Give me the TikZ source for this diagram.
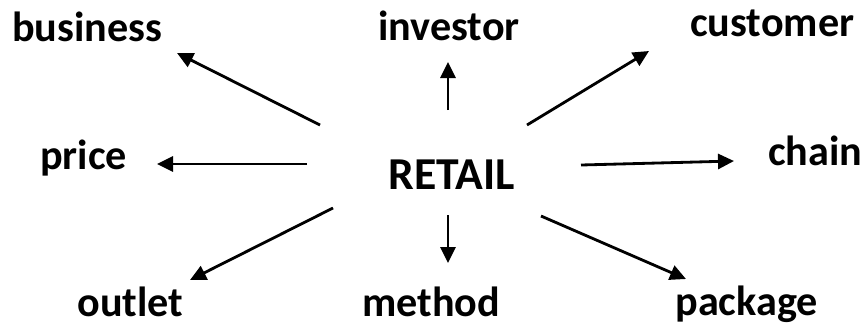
\documentclass[tikz,border=0pt]{standalone}
\usepackage{fontspec}
\setmainfont{Carlito}
\usepackage{tikz}
\usetikzlibrary{arrows.meta}
\definecolor{RetailInk}{HTML}{000000}
\tikzset{
  word/.style={anchor=base west,inner sep=0pt,text=RetailInk,font=\fontsize{24}{28}\selectfont\bfseries},
  hub/.style={anchor=base west,inner sep=0pt,text=RetailInk,font=\fontsize{26}{30}\selectfont\bfseries},
  spoke/.style={-{Triangle[length=0.32cm,width=0.3cm]},line width=1.6pt,color=RetailInk},
}

\begin{document}
\begin{tikzpicture}[x=0.02cm,y=-0.02cm]
  \useasboundingbox (0,0) rectangle (864,329);

  \node[hub] (retail) at (388,189) {RETAIL};

  \node[word] (business) at (12,41) {business};
  \node[word] (investor) at (378,40) {investor};
  \node[word] (customer) at (690,36) {customer};
  \node[word] (price) at (40,169) {price};
  \node[word] (chain) at (768,165) {chain};
  \node[word] (outlet) at (77,316) {outlet};
  \node[word] (method) at (362,316) {method};
  \node[word] (package) at (675,315) {package};

  % arrow ends around the hub
  \coordinate (b0) at (320,125);  \coordinate (b1) at (177,53);
  \coordinate (i0) at (448,110);  \coordinate (i1) at (448,62);
  \coordinate (c0) at (527,125);  \coordinate (c1) at (649,51);
  \coordinate (p0) at (307,164);  \coordinate (p1) at (157,164);
  \coordinate (h0) at (581,165);  \coordinate (h1) at (734,161);
  \coordinate (o0) at (333,208);  \coordinate (o1) at (190,280);
  \coordinate (m0) at (448,215);  \coordinate (m1) at (448,263);
  \coordinate (k0) at (541,216);  \coordinate (k1) at (686,279);

  \draw[spoke] (b0) -- (b1);
  \draw[spoke] (i0) -- (i1);
  \draw[spoke] (c0) -- (c1);
  \draw[spoke] (p0) -- (p1);
  \draw[spoke] (h0) -- (h1);
  \draw[spoke] (o0) -- (o1);
  \draw[spoke] (m0) -- (m1);
  \draw[spoke] (k0) -- (k1);
\end{tikzpicture}
\end{document}
